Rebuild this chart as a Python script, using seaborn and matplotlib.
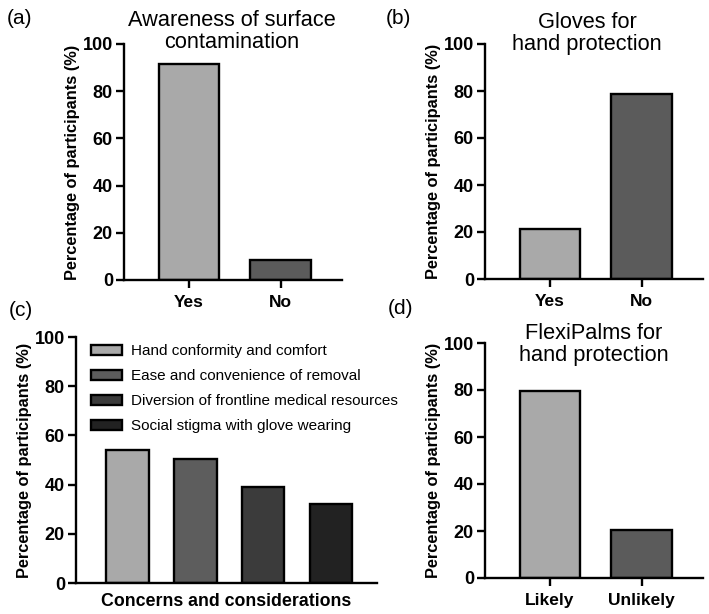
import matplotlib
matplotlib.use("Agg")
import matplotlib.pyplot as plt
import seaborn as sns
import pandas as pd

sns.set_theme(style="ticks")
plt.rcParams['font.family'] = ['Liberation Sans', 'DejaVu Sans']
plt.rcParams.update({"text.color": "black", "axes.labelcolor": "black",
                     "xtick.color": "black", "ytick.color": "black"})

# ---- data ----
a_cats = ["Yes", "No"]
a_vals = [91.7, 8.3]
a_title = "Awareness of surface\ncontamination"

b_cats = ["Yes", "No"]
b_vals = [21.2, 78.8]
b_title = "Gloves for\nhand protection"

c_cats = ["Hand conformity and comfort", "Ease and convenience of removal",
          "Diversion of frontline medical resources", "Social stigma with glove wearing"]
c_vals = [54.0, 50.6, 39.2, 32.1]
c_xlabel = "Concerns and considerations"

d_cats = ["Likely", "Unlikely"]
d_vals = [79.6, 20.4]
d_title = "FlexiPalms for\nhand protection"

ylabel = "Percentage of participants (%)"
yticks = [0, 20, 40, 60, 80, 100]

light, dark = "#a9a9a9", "#5b5b5b"
c_colors = ["#a9a9a9", "#5d5d5d", "#3b3b3b", "#222222"]

W, H = 709, 614
fig = plt.figure(figsize=(W / 100, H / 100), dpi=100)

def px_axes(l, r, t, b):
    return fig.add_axes([l / W, 1 - b / H, (r - l) / W, (b - t) / H])

ax_a = px_axes(124, 342, 44, 280)
ax_b = px_axes(485, 703, 44, 279)
ax_c = px_axes(76, 377, 337, 583)
ax_d = px_axes(485, 703, 343, 578)

def style(ax, xlim):
    ax.set_ylim(0, 100)
    ax.set_yticks(yticks)
    ax.set_xlim(*xlim)
    for s in ["top", "right"]:
        ax.spines[s].set_visible(False)
    for s in ["left", "bottom"]:
        ax.spines[s].set_linewidth(1.7)
        ax.spines[s].set_color("black")
    ax.tick_params(axis="y", width=1.7, length=6, color="black",
                   labelsize=13, pad=2)
    ax.tick_params(axis="x", width=1.7, length=6, color="black",
                   labelsize=12.5, pad=5)
    for lab in ax.get_xticklabels() + ax.get_yticklabels():
        lab.set_fontweight("bold")
    ax.set_ylabel(ylabel, fontsize=11.8, fontweight="bold", labelpad=2)
    ax.set_xlabel("")

def two_bar(ax, cats, vals, title, tx, ty):
    df = pd.DataFrame({"cat": cats, "val": vals})
    sns.barplot(data=df, x="cat", y="val", hue="cat", palette=[light, dark],
                edgecolor="black", linewidth=1.7, width=0.66, legend=False,
                saturation=1, ax=ax)
    style(ax, (-0.71, 1.67))
    ax.text(tx, ty, title, transform=ax.transAxes, ha="center", va="center",
            fontsize=15.7, linespacing=1.1)

two_bar(ax_a, a_cats, a_vals, a_title, 0.495, 1.053)
two_bar(ax_b, b_cats, b_vals, b_title, 0.468, 1.045)
two_bar(ax_d, d_cats, d_vals, d_title, 0.5, 0.994)

dfc = pd.DataFrame({"cat": c_cats, "val": c_vals})
sns.barplot(data=dfc, x="cat", y="val", hue="cat", palette=c_colors,
            edgecolor="black", linewidth=1.7, width=0.63, saturation=1,
            legend=True, ax=ax_c)
style(ax_c, (-0.76, 3.68))
ax_c.set_xticks([])
ax_c.set_xlabel(c_xlabel, fontsize=12.8, fontweight="bold", labelpad=7)
leg = ax_c.legend(loc="upper left", bbox_to_anchor=(0.03, 0.995), frameon=False,
                  fontsize=11, handlelength=2.0, handleheight=0.55,
                  labelspacing=0.72, handletextpad=0.6, borderaxespad=0)
leg.set_title(None)

for txt, x, y in [("(a)", 7, 18), ("(b)", 386, 18), ("(c)", 9, 310), ("(d)", 388, 308)]:
    fig.text(x / W, 1 - y / H, txt, ha="left", va="center", fontsize=15)

fig.savefig("out.png", dpi=100, facecolor="white")
